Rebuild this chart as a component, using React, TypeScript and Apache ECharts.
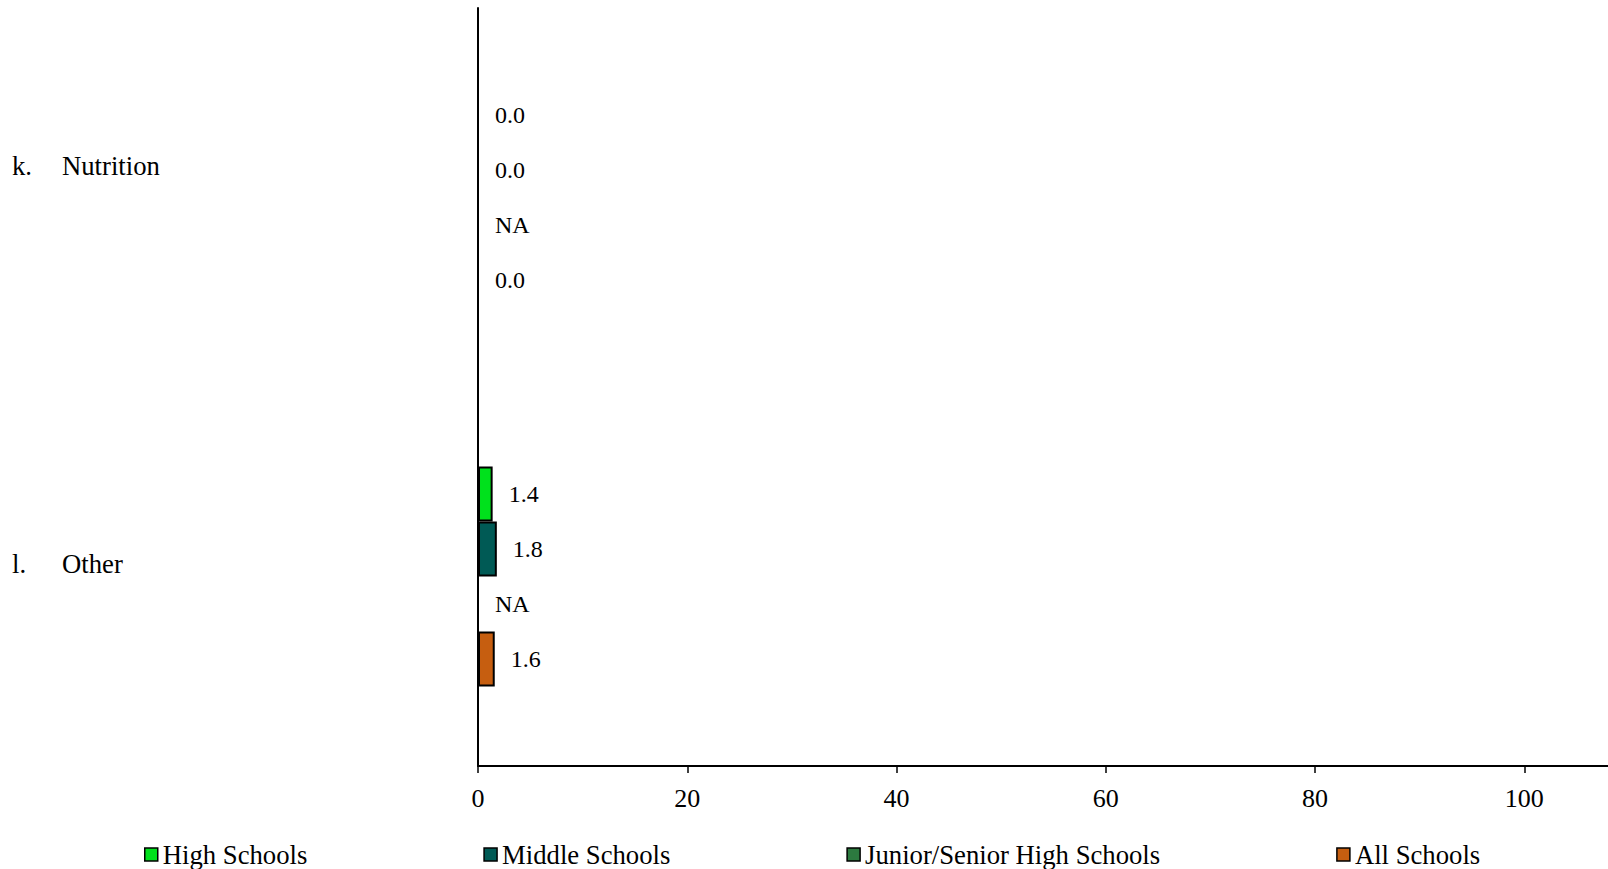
import React, { useEffect, useRef } from "react";
import * as echarts from "echarts";

const categories = ["k.|Nutrition", "l.|Other"];
const highSchools: (number | null)[] = [0.0, 1.4];
const middleSchools: (number | null)[] = [0.0, 1.8];
const juniorSeniorHigh: (number | null)[] = [null, null];
const allSchools: (number | null)[] = [0.0, 1.6];
const xTicks = [0, 20, 40, 60, 80, 100];

const seriesDefs = [
  { name: "High Schools", data: highSchools, color: "#00E11C" },
  { name: "Middle Schools", data: middleSchools, color: "#005A55" },
  { name: "Junior/Senior High Schools", data: juniorSeniorHigh, color: "#2C7A3F" },
  { name: "All Schools", data: allSchools, color: "#C65E10" },
];

const FONT = "Liberation Serif";

export default function App() {
  const ref = useRef<HTMLDivElement>(null);
  useEffect(() => {
    if (!ref.current) return;
    const chart = echarts.init(ref.current, null, { renderer: "svg" });
    chart.setOption({
      animation: false,
      textStyle: { fontFamily: FONT, color: "#000" },
      grid: { left: 478, top: 8, right: 0, bottom: 103, containLabel: false, outerBoundsMode: "none" },
      legend: {
        left: 139,
        top: 836,
        itemWidth: 13,
        itemHeight: 13,
        itemGap: 176,
        icon: "rect",
        textStyle: { fontFamily: FONT, fontSize: 26.7, color: "#000" },
        data: seriesDefs.map((s) => ({
          name: s.name,
          itemStyle: { color: s.color, borderColor: "#000", borderWidth: 1.5 },
        })),
      },
      xAxis: {
        type: "value",
        min: 0,
        max: 108,
        interval: 20,
        splitLine: { show: false },
        axisLine: { show: true, lineStyle: { color: "#000", width: 2 } },
        axisTick: { show: true, length: 7, lineStyle: { color: "#000", width: 1.5 }, customValues: xTicks },
        axisLabel: { fontFamily: FONT, fontSize: 26, color: "#000", margin: 19, customValues: xTicks },
      },
      yAxis: {
        type: "category",
        inverse: true,
        data: categories.map((c, i) => ({
          value: c,
          textStyle: {
            align: "left",
            padding: i === 0 ? [0, 0, 64, 0] : [0, 0, 26, 0],
          },
        })),
        axisLine: { show: true, lineStyle: { color: "#000", width: 2 } },
        axisTick: { show: false },
        axisLabel: {
          align: "left",
          margin: 466,
          fontFamily: FONT,
          fontSize: 26.7,
          color: "#000",
          formatter: (v: string) => {
            const [a, b] = v.split("|");
            return `{a|${a}}{b|${b}}`;
          },
          rich: {
            a: { width: 50, align: "left", fontFamily: FONT, fontSize: 26.7, color: "#000" },
            b: { fontFamily: FONT, fontSize: 26.7, color: "#000" },
          },
        },
      },
      series: seriesDefs.map((s) => ({
        name: s.name,
        type: "bar",
        barGap: "0%",
        barCategoryGap: "42%",
        itemStyle: { color: s.color, borderColor: "#000", borderWidth: 2 },
        label: {
          show: true,
          position: "right",
          distance: 16,
          fontFamily: FONT,
          fontSize: 24,
          color: "#000",
          formatter: (p: any) => {
            const raw = s.data[p.dataIndex];
            return raw === null ? "NA" : raw.toFixed(1);
          },
        },
        data: s.data.map((v) => (v === null ? 0 : v)),
      })),
    });
    return () => chart.dispose();
  }, []);
  return <div ref={ref} style={{ position: "absolute", left: 0, top: 0, width: 1608, height: 869 }} />;
}
